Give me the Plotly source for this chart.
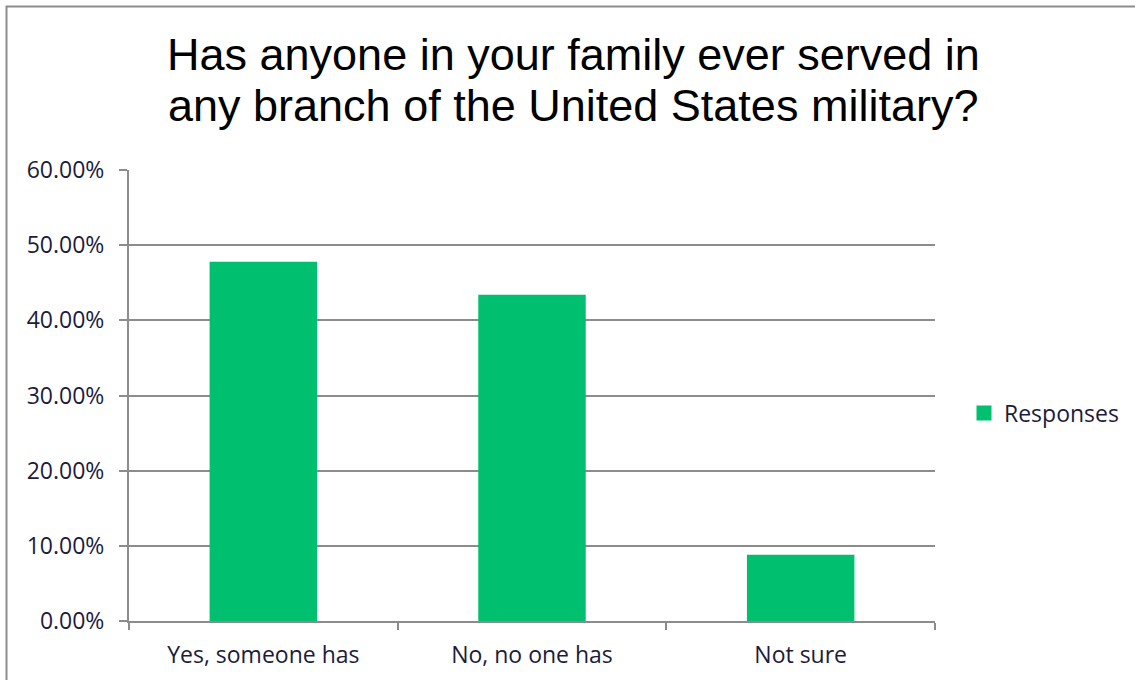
import plotly.graph_objects as go

categories = ["Yes, someone has", "No, no one has", "Not sure"]
responses = [0.478, 0.434, 0.088]
y_ticks = [0, 0.1, 0.2, 0.3, 0.4, 0.5, 0.6]
title_lines = [
    "Has anyone in your family ever served in",
    "any branch of the United States military?",
]

GRID = "#8c8c8c"
TEXT = "#1c1c3a"
BAR = "#00bf6f"
LABEL_FONT = dict(family="Open Sans", size=23, color=TEXT)

# plot area in pixels: x 129..935, y 170..621
PX_L, PX_R, PX_T, PX_B = 129, 935, 170, 621


def px_x(px):
    return (px - PX_L) / (PX_R - PX_L)


def px_y(py):
    return (PX_B - py) / (PX_B - PX_T)


fig = go.Figure()
fig.add_trace(
    go.Bar(
        x=categories,
        y=responses,
        name="Responses",
        marker=dict(color=BAR, line=dict(width=0)),
        showlegend=False,
    )
)
# legend entry with a larger square swatch
fig.add_trace(
    go.Scatter(
        x=[None], y=[None], mode="markers", name="Responses",
        marker=dict(symbol="square", size=15, color=BAR),
        showlegend=True,
    )
)

annotations = [
    dict(
        text=line,
        xref="paper", yref="paper",
        x=px_x(573), y=px_y(cy),
        xanchor="center", yanchor="middle",
        showarrow=False,
        borderpad=0, borderwidth=0,
        font=dict(family="Liberation Sans", size=45, color="black"),
    )
    for line, cy in zip(title_lines, [54.5, 105.5])
]

fig.update_layout(
    width=1135,
    height=680,
    margin=dict(l=PX_L, r=1135 - PX_R, t=PX_T, b=680 - PX_B, autoexpand=False),
    paper_bgcolor="white",
    plot_bgcolor="white",
    bargap=0.6,
    showlegend=True,
    legend=dict(
        x=px_x(964), y=px_y(413), xanchor="left", yanchor="middle",
        font=LABEL_FONT, bgcolor="rgba(0,0,0,0)",
    ),
    xaxis=dict(
        type="category",
        automargin=False,
        showline=True, linecolor=GRID, linewidth=2,
        ticks="outside", tickson="boundaries", ticklen=7,
        tickcolor=GRID, tickwidth=2,
        tickfont=LABEL_FONT,
        ticklabelstandoff=12,
        showgrid=False,
    ),
    yaxis=dict(
        automargin=False,
        range=[0, 0.6],
        tickvals=y_ticks,
        tickformat=".2%",
        showline=True, linecolor=GRID, linewidth=2,
        ticks="outside", ticklen=8, tickcolor=GRID, tickwidth=2,
        showgrid=True, gridcolor=GRID, gridwidth=2,
        zeroline=False,
        tickfont=LABEL_FONT,
        ticklabelstandoff=10,
    ),
    annotations=annotations,
    shapes=[
        dict(
            type="rect", xref="paper", yref="paper",
            x0=px_x(6.5), x1=1.5,
            y0=-0.5, y1=px_y(6.5),
            line=dict(color=GRID, width=2),
            fillcolor="rgba(0,0,0,0)",
            layer="below",
        )
    ],
)

fig.write_html("out.html")
